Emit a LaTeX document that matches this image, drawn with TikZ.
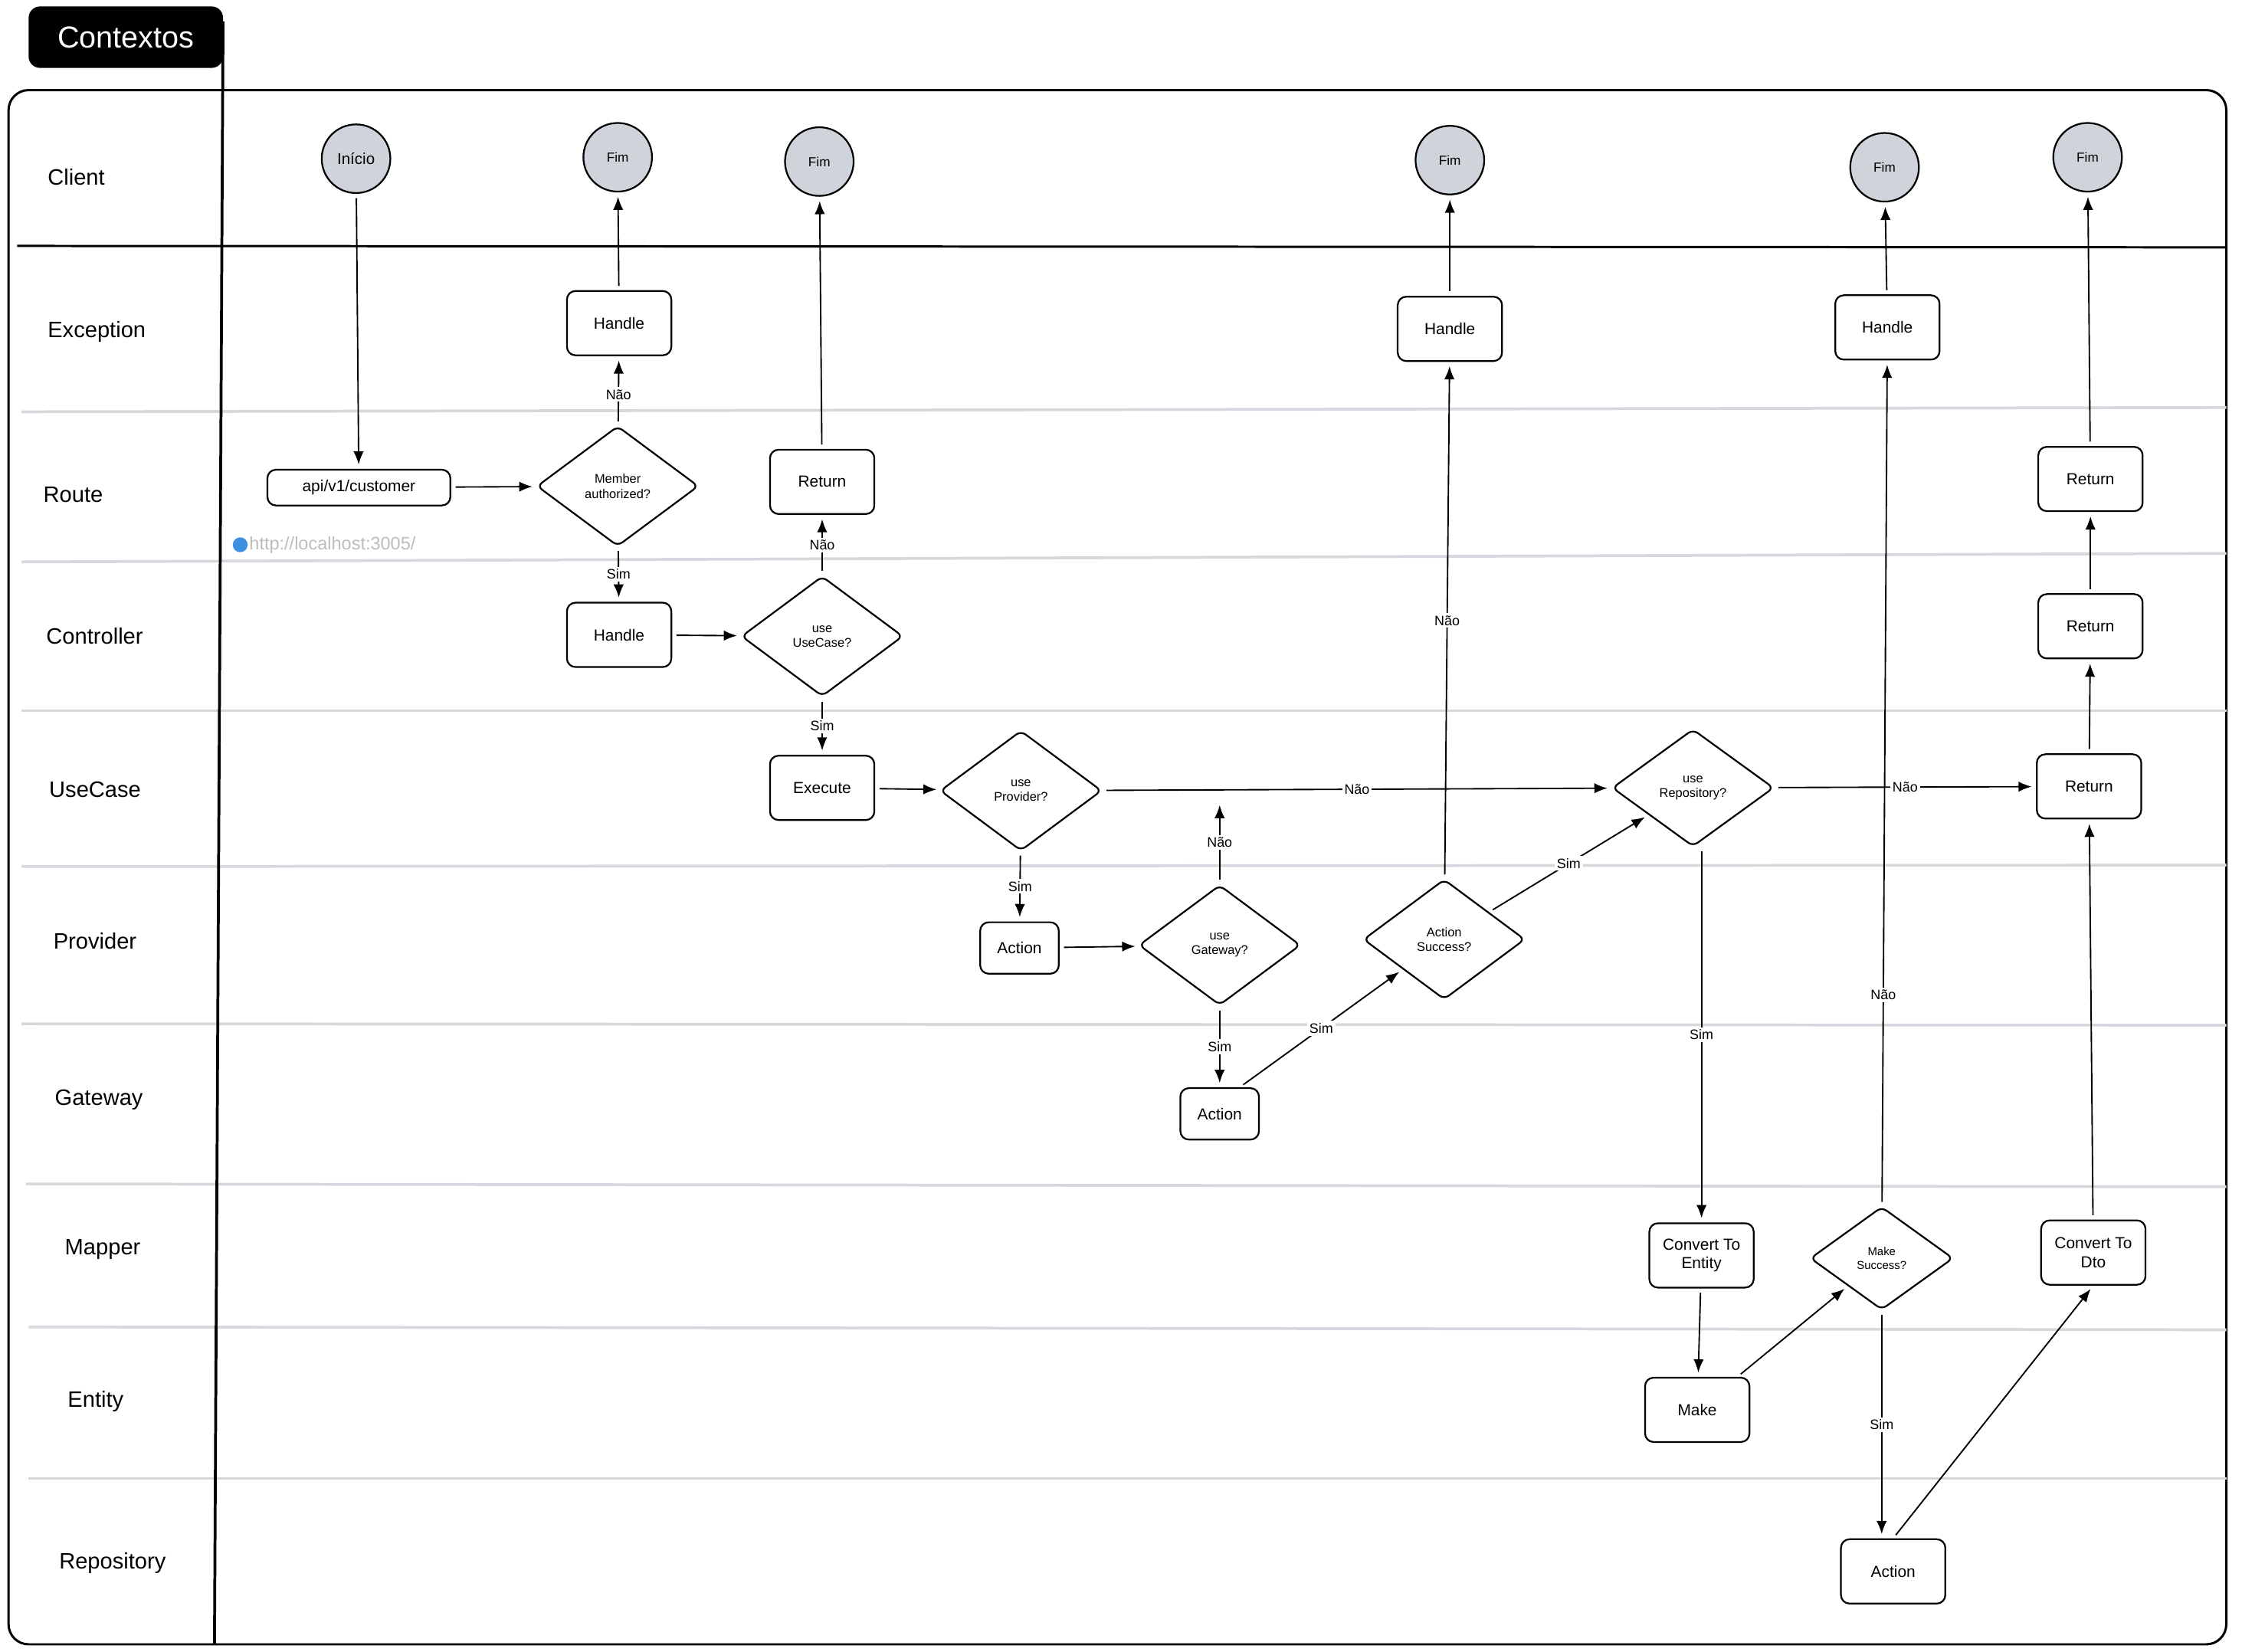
\documentclass[tikz,border=0pt]{standalone}
\usepackage{fontspec}
\setmainfont{Liberation Sans}
\usetikzlibrary{shapes.geometric,arrows.meta,calc}
\definecolor{termgray}{HTML}{CED4DA}
\definecolor{sepgray}{HTML}{D5D9DD}
\definecolor{globeblue}{HTML}{3D8FE0}
\definecolor{urlgray}{HTML}{BDBDBD}
\begin{document}
\begin{tikzpicture}[x=0.5pt,y=-0.5pt,
  box/.style={draw, rounded corners=3pt, line width=0.6pt, minimum width=36.5pt, minimum height=22.5pt, inner sep=1pt, font=\fontsize{5.6}{6.6}\selectfont, align=center},
  smallbox/.style={box, minimum width=27.5pt, minimum height=18pt},
  dec/.style={draw, diamond, rounded corners=2pt, line width=0.6pt, minimum width=56.5pt, minimum height=42pt, inner sep=0pt, font=\fontsize{4.4}{5.2}\selectfont, align=center},
  term/.style={draw, circle, fill=termgray, line width=0.6pt, minimum size=24pt, inner sep=0pt, font=\fontsize{4.6}{5.5}\selectfont},
  lane/.style={anchor=west, inner sep=0pt, font=\fontsize{7.8}{9}\selectfont},
  sep/.style={draw=sepgray, line width=1pt},
  flow/.style={-{Latex[length=4.6pt,width=3.6pt]}, line width=0.5pt, shorten >=1.5pt, shorten <=1.5pt},
  lbl/.style={fill=white, inner sep=0.8pt, font=\fontsize{4.8}{5.6}\selectfont}]
\useasboundingbox (0,0) rectangle (1568,1155);

% frame and lanes
\draw[line width=0.8pt, rounded corners=7pt] (6,63) rectangle (1557,1150);
\draw[line width=0.8pt] (12,172) -- (1557,173);
\draw[sep] (15,288) -- (1557,285);
\draw[sep] (15,393) -- (1557,387);
\draw[sep] (15,497) -- (1557,497);
\draw[sep] (15,606) -- (1557,605);
\draw[sep] (15,716) -- (1557,717);
\draw[sep] (18,828) -- (1557,830);
\draw[sep] (20,928) -- (1557,930);
\draw[sep] (20,1034) -- (1557,1034);

\node[fill=black, rounded corners=4pt, minimum width=68pt, minimum height=21.5pt, text=white, font=\fontsize{10.6}{12}\selectfont] (ctx) at (88,26) {Contextos};
\draw[line width=1pt] (156,15) -- (150,1150);

\node[lane] (lclient) at (33,124) {Client};
\node[lane] (lexc) at (33,232) {Exception};
\node[lane] (lroute) at (30,346) {Route};
\node[lane] (lctrl) at (32,445) {Controller};
\node[lane] (luc) at (34,552) {UseCase};
\node[lane] (lprov) at (37,658) {Provider};
\node[lane] (lgw) at (38,769) {Gateway};
\node[lane] (lmap) at (45,874) {Mapper};
\node[lane] (lent) at (47,980) {Entity};
\node[lane] (lrepo) at (41,1093) {Repository};

% url
\fill[globeblue] (168,381) circle (2.6pt);
\node[anchor=west, text=urlgray, inner sep=0pt, font=\fontsize{6.3}{7}\selectfont] (url) at (174,381) {http://localhost:3005/};

% terminals
\node[term, font=\fontsize{5.5}{6.5}\selectfont] (ini) at (249,111) {Início};
\node[term] (fim1) at (432,110) {Fim};
\node[term] (fim2) at (573,113) {Fim};
\node[term] (fim3) at (1014,112) {Fim};
\node[term] (fim4) at (1318,117) {Fim};
\node[term] (fim5) at (1460,110) {Fim};

% exception
\node[box] (exh1) at (433,226) {Handle};
\node[box] (exh2) at (1014,230) {Handle};
\node[box] (exh3) at (1320,229) {Handle};

% route
\node[box, minimum width=64pt, minimum height=12.5pt] (api) at (251,341) {api/v1/customer};
\node[dec] (auth) at (432,340) {Member\\authorized?};
\node[box] (ret1) at (575,337) {Return};
\node[box] (ret4) at (1462,335) {Return};

% controller
\node[box] (ctlh) at (433,444) {Handle};
\node[dec] (useuc) at (575,445) {use\\UseCase?};
\node[box] (ret3) at (1462,438) {Return};

% usecase
\node[box] (exe) at (575,551) {Execute};
\node[dec] (useprov) at (714,553) {use\\Provider?};
\node[dec, minimum height=41pt] (userepo) at (1184,551) {use\\Repository?};
\node[box] (ret2) at (1461,550) {Return};

% provider
\node[smallbox] (provact) at (713,663) {Action};
\node[dec] (usegw) at (853,661) {use\\Gateway?};
\node[dec] (actsucc) at (1010,657) {Action\\Success?};

% gateway
\node[smallbox] (gwact) at (853,779) {Action};

% mapper
\node[box] (cte) at (1190,878) {Convert To\\Entity};
\node[dec, minimum width=50pt, minimum height=36pt, font=\fontsize{4}{4.8}\selectfont] (mksucc) at (1316,880) {Make\\Success?};
\node[box] (dto) at (1464,876) {Convert To\\Dto};

% entity
\node[box] (make) at (1187,986) {Make};

% repository
\node[box] (repact) at (1324,1099) {Action};

% connectors
\draw[flow] (ini) -- (api);
\draw[flow] (api) -- (auth);
\draw[flow] (auth) -- node[lbl,pos=0.45]{Não} (exh1);
\draw[flow] (exh1) -- (fim1);
\draw[flow] (auth) -- node[lbl]{Sim} (ctlh);
\draw[flow] (ctlh) -- (useuc);
\draw[flow] (useuc) -- node[lbl]{Não} (ret1);
\draw[flow] (ret1) -- (fim2);
\draw[flow] (useuc) -- node[lbl]{Sim} (exe);
\draw[flow] (exe) -- (useprov);
\draw[flow] (useprov) -- node[lbl]{Não} (userepo);
\draw[flow] (useprov) -- node[lbl]{Sim} (provact);
\draw[flow] (provact) -- (usegw);
\coordinate (gwnao) at (853,560);
\draw[flow] (usegw) -- node[lbl]{Não} (gwnao);
\draw[flow] (usegw) -- node[lbl]{Sim} (gwact);
\draw[flow] ($(gwact.north)!0.5!(gwact.north east)$) -- node[lbl]{Sim} (actsucc);
\draw[flow] (actsucc) -- node[lbl]{Sim} (userepo);
\draw[flow] (actsucc) -- node[lbl]{Não} (exh2);
\draw[flow] (exh2) -- (fim3);
\draw[flow] (userepo) -- node[lbl]{Não} (ret2);
\draw[flow] (cte.north |- userepo.south) -- node[lbl]{Sim} (cte.north);
\draw[flow] (cte) -- (make);
\draw[flow] (make) -- (mksucc);
\draw[flow] (mksucc) -- node[lbl,pos=0.25]{Não} (exh3);
\draw[flow] (exh3) -- (fim4);
\draw[flow] (mksucc.south) -- node[lbl]{Sim} (mksucc.south |- repact.north);
\draw[flow] (repact.north) -- (dto.south);
\draw[flow] (dto) -- (ret2);
\draw[flow] (ret2) -- (ret3);
\draw[flow] (ret3) -- (ret4);
\draw[flow] (ret4) -- (fim5);
\end{tikzpicture}
\end{document}
